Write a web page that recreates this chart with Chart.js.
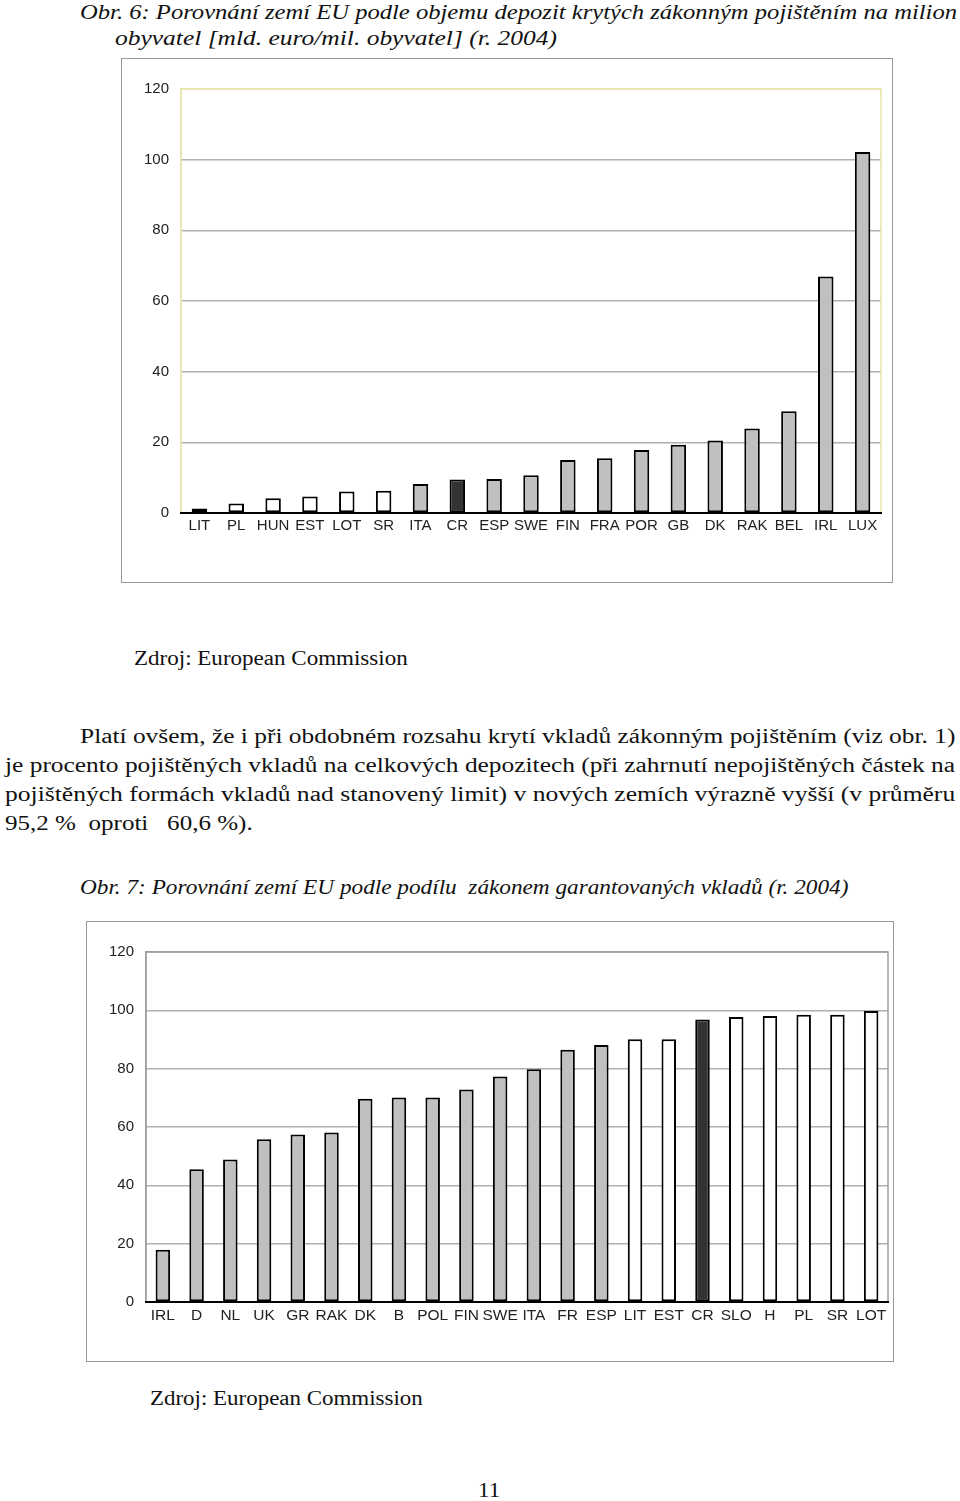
<!DOCTYPE html>
<html>
<head>
<meta charset="utf-8">
<script src="https://cdn.jsdelivr.net/npm/chart.js@4.4.1/dist/chart.umd.min.js"></script>
<style>
    body { margin: 0; background: #fff; width: 960px; height: 1501px; position: relative; overflow: hidden;
           font-family: "Liberation Serif", "Times New Roman", serif; color: #111; }
    .t { position: absolute; white-space: nowrap; font-size: 20px; line-height: 24px; transform-origin: 0 0; }
    .cap { font-style: italic; }
    .box { position: absolute; border: 1.5px solid #999; box-sizing: border-box; background: #fff; }
    .box canvas { position: absolute; left: 0; top: 0; }
</style>
</head>
<body>

<div class="t cap fit" data-w="877" style="left:80px; top:0px;">Obr. 6: Porovnání zemí EU podle objemu depozit krytých zákonným pojištěním na milion</div>
<div class="t cap fit" data-w="442" style="left:115px; top:26px;">obyvatel [mld. euro/mil. obyvatel] (r. 2004)</div>

<div class="box" style="left:121px; top:58px; width:772px; height:525px;">
    <canvas id="chart1" width="772" height="525"></canvas>
</div>

<div class="t fit" data-w="274" style="left:134px; top:646px;">Zdroj: European Commission</div>

<div class="t fit" data-w="875" style="left:80px; top:724px;">Platí ovšem, že i při obdobném rozsahu krytí vkladů zákonným pojištěním (viz obr. 1)</div>
<div class="t fit" data-w="950" style="left:5px; top:753px;">je procento pojištěných vkladů na celkových depozitech (při zahrnutí nepojištěných částek na</div>
<div class="t fit" data-w="950" style="left:5px; top:782px;">pojištěných formách vkladů nad stanovený limit) v nových zemích výrazně vyšší (v průměru</div>
<div class="t fit" data-w="248" style="left:5px; top:811px;">95,2 %&nbsp; oproti &nbsp; 60,6 %).</div>

<div class="t cap fit" data-w="768" style="left:80px; top:875px;">Obr. 7: Porovnání zemí EU podle podílu&nbsp; zákonem garantovaných vkladů (r. 2004)</div>

<div class="box" style="left:86px; top:921px; width:808px; height:441px;">
    <canvas id="chart2" width="808" height="441"></canvas>
</div>

<div class="t fit" data-w="273" style="left:150px; top:1386px;">Zdroj: European Commission</div>
<div class="t" style="left:478px; top:1478px; transform: scaleX(1.15);">11</div>

<script>
// stretch each text line to the width it has on the scanned page
document.querySelectorAll('.fit').forEach(el => {
    el.style.transform = 'scaleX(' + (el.dataset.w / el.scrollWidth) + ')';
});

// Obr. 6 - deposits covered per million inhabitants
const countries1 = ['LIT', 'PL', 'HUN', 'EST', 'LOT', 'SR', 'ITA', 'CR', 'ESP', 'SWE', 'FIN', 'FRA', 'POR', 'GB', 'DK', 'RAK', 'BEL', 'IRL', 'LUX'];
const values1 = [1.3, 2.7, 4.2, 4.7, 6.1, 6.3, 8.2, 9.5, 9.6, 10.7, 15.0, 15.5, 17.8, 19.3, 20.5, 23.9, 28.8, 66.9, 102.2];
const groups1 = ['new', 'new', 'new', 'new', 'new', 'new', 'old', 'cr', 'old', 'old', 'old', 'old', 'old', 'old', 'old', 'old', 'old', 'old', 'old'];

// Obr. 7 - share of guaranteed deposits
const countries2 = ['IRL', 'D', 'NL', 'UK', 'GR', 'RAK', 'DK', 'B', 'POL', 'FIN', 'SWE', 'ITA', 'FR', 'ESP', 'LIT', 'EST', 'CR', 'SLO', 'H', 'PL', 'SR', 'LOT'];
const values2 = [17.9, 45.5, 48.9, 55.8, 57.4, 58.1, 69.7, 70.1, 70.1, 72.9, 77.3, 79.8, 86.5, 88.1, 90.1, 90.1, 96.9, 97.7, 98.1, 98.5, 98.5, 99.8];
const groups2 = ['old', 'old', 'old', 'old', 'old', 'old', 'old', 'old', 'old', 'old', 'old', 'old', 'old', 'old', 'new', 'new', 'cr', 'new', 'new', 'new', 'new', 'new'];

const yTicks = [0, 20, 40, 60, 80, 100, 120];

const groupColors = { new: '#ffffff', old: '#c0c0c0', cr: '#333333' };

// frame around the plot area
const plotFrame = {
    id: 'plotFrame',
    beforeDatasetsDraw(chart, args, opts) {
        const a = chart.chartArea;
        const ctx = chart.ctx;
        ctx.save();
        ctx.strokeStyle = opts.color;
        ctx.lineWidth = 1.5;
        ctx.beginPath();
        ctx.moveTo(a.left, a.bottom);
        ctx.lineTo(a.left, a.top);
        ctx.lineTo(a.right, a.top);
        ctx.lineTo(a.right, a.bottom);
        ctx.stroke();
        ctx.restore();
    }
};

function makeChart(id, labels, values, groups, cfg) {
    const ctx = document.getElementById(id).getContext('2d');
    return new Chart(ctx, {
        type: 'bar',
        data: {
            labels: labels,
            datasets: [{
                data: values,
                backgroundColor: groups.map(g => groupColors[g]),
                borderColor: '#000',
                borderWidth: 2,
                borderSkipped: false,
                barPercentage: cfg.barPct,
                categoryPercentage: 1
            }]
        },
        plugins: [plotFrame],
        options: {
            responsive: false,
            animation: false,
            layout: { padding: { top: cfg.top, right: cfg.right, left: 0, bottom: 0 } },
            plugins: {
                legend: { display: false },
                tooltip: { enabled: false },
                plotFrame: { color: cfg.frame }
            },
            scales: {
                x: {
                    grid: { display: false, drawTicks: false },
                    border: { display: true, color: '#000', width: 2, z: 1 },
                    ticks: {
                        autoSkip: false, maxRotation: 0, minRotation: 0, padding: 4,
                        color: '#222', font: { family: 'Liberation Sans', size: cfg.xfont }
                    },
                    afterFit(scale) { scale.height = cfg.xh; }
                },
                y: {
                    min: 0, max: 120,
                    afterBuildTicks(scale) { scale.ticks = yTicks.map(v => ({ value: v })); },
                    grid: {
                        drawTicks: false,
                        color: ctx => ctx.tick.value === 120 ? cfg.frame : '#b0b0b0',
                        lineWidth: 1.5
                    },
                    border: { display: true, color: cfg.frame, width: 1.5 },
                    ticks: {
                        padding: 12, color: '#222',
                        font: { family: 'Liberation Sans', size: 15 }
                    },
                    afterFit(scale) { scale.width = 59; }
                }
            }
        }
    });
}

makeChart('chart1', countries1, values1, groups1, { top: 30, right: 13, xh: 71, barPct: 0.42, frame: '#e6e6a8', xfont: 15 });
makeChart('chart2', countries2, values2, groups2, { top: 30, right: 7, xh: 61, barPct: 0.43, frame: '#a0a0a0', xfont: 15.5 });
</script>
</body>
</html>
